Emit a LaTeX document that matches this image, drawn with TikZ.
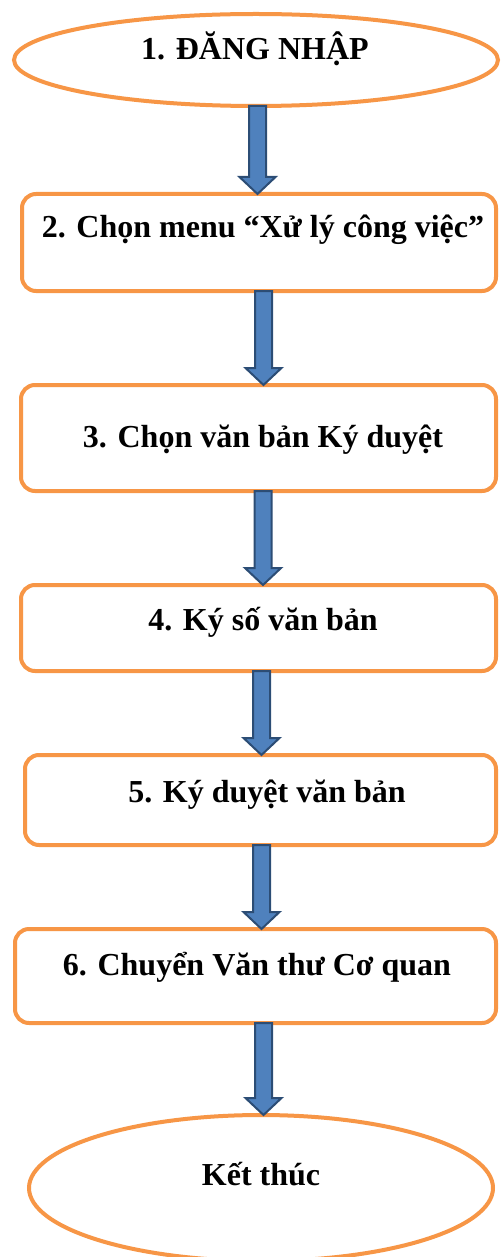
\documentclass[tikz,border=0pt]{standalone}
\usepackage{fontspec}
\setmainfont{Liberation Serif}
\usetikzlibrary{shapes.geometric,calc}
\definecolor{boxorange}{HTML}{F79646}
\definecolor{arrowfill}{HTML}{4F81BD}
\definecolor{arrowline}{HTML}{2C4D75}
\tikzset{
  ovalbox/.style={ellipse,draw=boxorange,line width=2pt,fill=white,inner sep=0pt,outer sep=0pt},
  stepbox/.style={rectangle,rounded corners=7pt,draw=boxorange,line width=2pt,fill=white,inner sep=0pt,outer sep=0pt},
  steptext/.style={anchor=base,inner sep=0pt,font=\fontsize{16pt}{19pt}\selectfont\bfseries},
  blockarrow/.style={fill=arrowfill,draw=arrowline,line width=1pt,line join=miter}
}
\newcommand\flowarrow[3]{%
  \path let \p1=(#2.south), \p2=(#3.north), \p3=(#1,0) in
    [blockarrow] (\x3-4.25pt,\y1) -- (\x3-4.25pt,\y2+8.5pt) -- (\x3-9pt,\y2+8.5pt)
    -- (\x3,\y2) -- (\x3+9pt,\y2+8.5pt) -- (\x3+4.25pt,\y2+8.5pt) -- (\x3+4.25pt,\y1) -- cycle;
}
\begin{document}
\begin{tikzpicture}[x=0.5pt,y=-0.5pt]
\useasboundingbox (0,0) rectangle (500,1257);
\node[ovalbox,minimum width=242pt,minimum height=46pt] (e1) at (256,60) {};
\node[stepbox,minimum width=237pt,minimum height=48.5pt] (b2) at (259,242.5) {};
\node[stepbox,minimum width=237.5pt,minimum height=53pt] (b3) at (258.5,438) {};
\node[stepbox,minimum width=237.5pt,minimum height=43pt] (b4) at (258.5,628) {};
\node[stepbox,minimum width=235.5pt,minimum height=45pt] (b5) at (260.5,800) {};
\node[stepbox,minimum width=240.5pt,minimum height=47pt] (b6) at (255.5,976) {};
\node[ovalbox,minimum width=232pt,minimum height=73pt] (e2) at (261,1188) {};

\node[steptext] (t1) at (255,60) {1. ĐĂNG NHẬP};
\node[steptext] (t2) at (263,238) {2. Chọn menu “Xử lý công việc”};
\node[steptext] (t3) at (263,447) {3. Chọn văn bản Ký duyệt};
\node[steptext] (t4) at (263,630) {4. Ký số văn bản};
\node[steptext] (t5) at (267,802) {5. Ký duyệt văn bản};
\node[steptext] (t6) at (257,975) {6. Chuyển Văn thư Cơ quan};
\node[steptext] (t7) at (261,1185) {Kết thúc};

\flowarrow{257.5}{e1}{b2}
\flowarrow{263.5}{b2}{b3}
\flowarrow{263}{b3}{b4}
\flowarrow{261.5}{b4}{b5}
\flowarrow{261.5}{b5}{b6}
\flowarrow{263.5}{b6}{e2}
\end{tikzpicture}
\end{document}
